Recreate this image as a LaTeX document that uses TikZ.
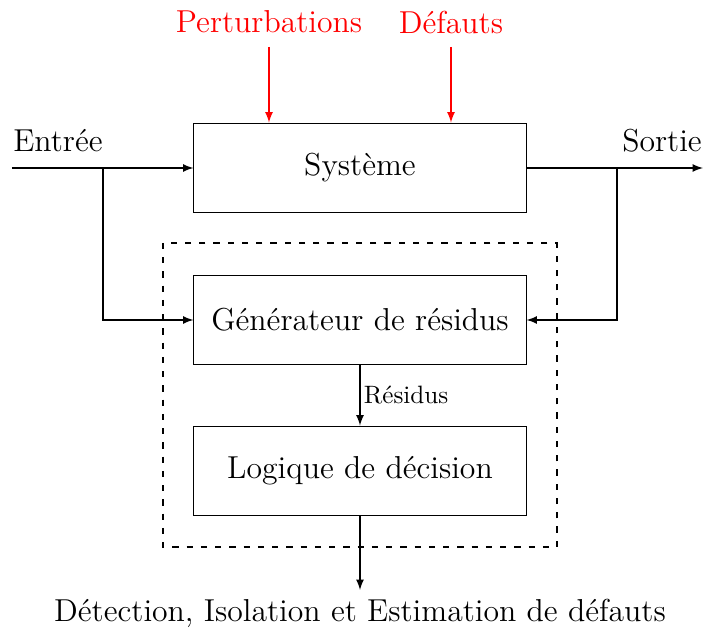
\documentclass[tikz,border=0pt]{standalone}
\usepackage{fontspec}
\usetikzlibrary{arrows}
\begin{document}
\begin{tikzpicture}[x=0.386pt,y=-0.386pt,
  blk/.style={draw,line width=0.4pt,inner sep=0pt,minimum width=128.2pt,minimum height=34.7pt,font=\fontsize{12.25}{14}\selectfont},
  lbl/.style={inner sep=0pt,font=\fontsize{12.25}{14}\selectfont},
  arr/.style={-latex,line width=0.4pt},
  redarr/.style={-latex,red,line width=0.4pt}]
\useasboundingbox (0,0) rectangle (703,630);
\node[blk] (sys) at (360,168) {Système};
\node[blk] (gen) at (360,320) {Générateur de résidus};
\node[blk] (log) at (360,471) {Logique de décision};
\draw[dash pattern=on 2.4pt off 3.1pt,line width=0.4pt] (163,243) rectangle (557,547);
\node[lbl,red] (pert) at (269,22) {Perturbations};
\node[lbl,red] (def) at (451,22) {Défauts};
\coordinate (p0) at (269,47);
\coordinate (d0) at (451,47);
\draw[redarr] (p0) -- (sys.north -| p0);
\draw[redarr] (d0) -- (sys.north -| d0);
\node[lbl] (ent) at (58,141) {Entrée};
\node[lbl] (sor) at (662,141) {Sortie};
\coordinate (in) at (12,168);
\coordinate (out) at (703,168);
\coordinate (bl) at (103,168);
\coordinate (br) at (617,168);
\draw[arr] (in) -- (sys.west);
\draw[arr] (sys.east) -- (out);
\draw[arr] (bl) |- (gen.west);
\draw[arr] (br) |- (gen.east);
\draw[arr] (gen.south) -- node[right,inner sep=1.3pt,font=\fontsize{9.7}{11}\selectfont]{Résidus} (log.north);
\coordinate (fin) at (360,590);
\draw[arr] (log.south) -- (fin);
\node[lbl] (det) at (360,613) {Détection, Isolation et Estimation de défauts};
\end{tikzpicture}
\end{document}
